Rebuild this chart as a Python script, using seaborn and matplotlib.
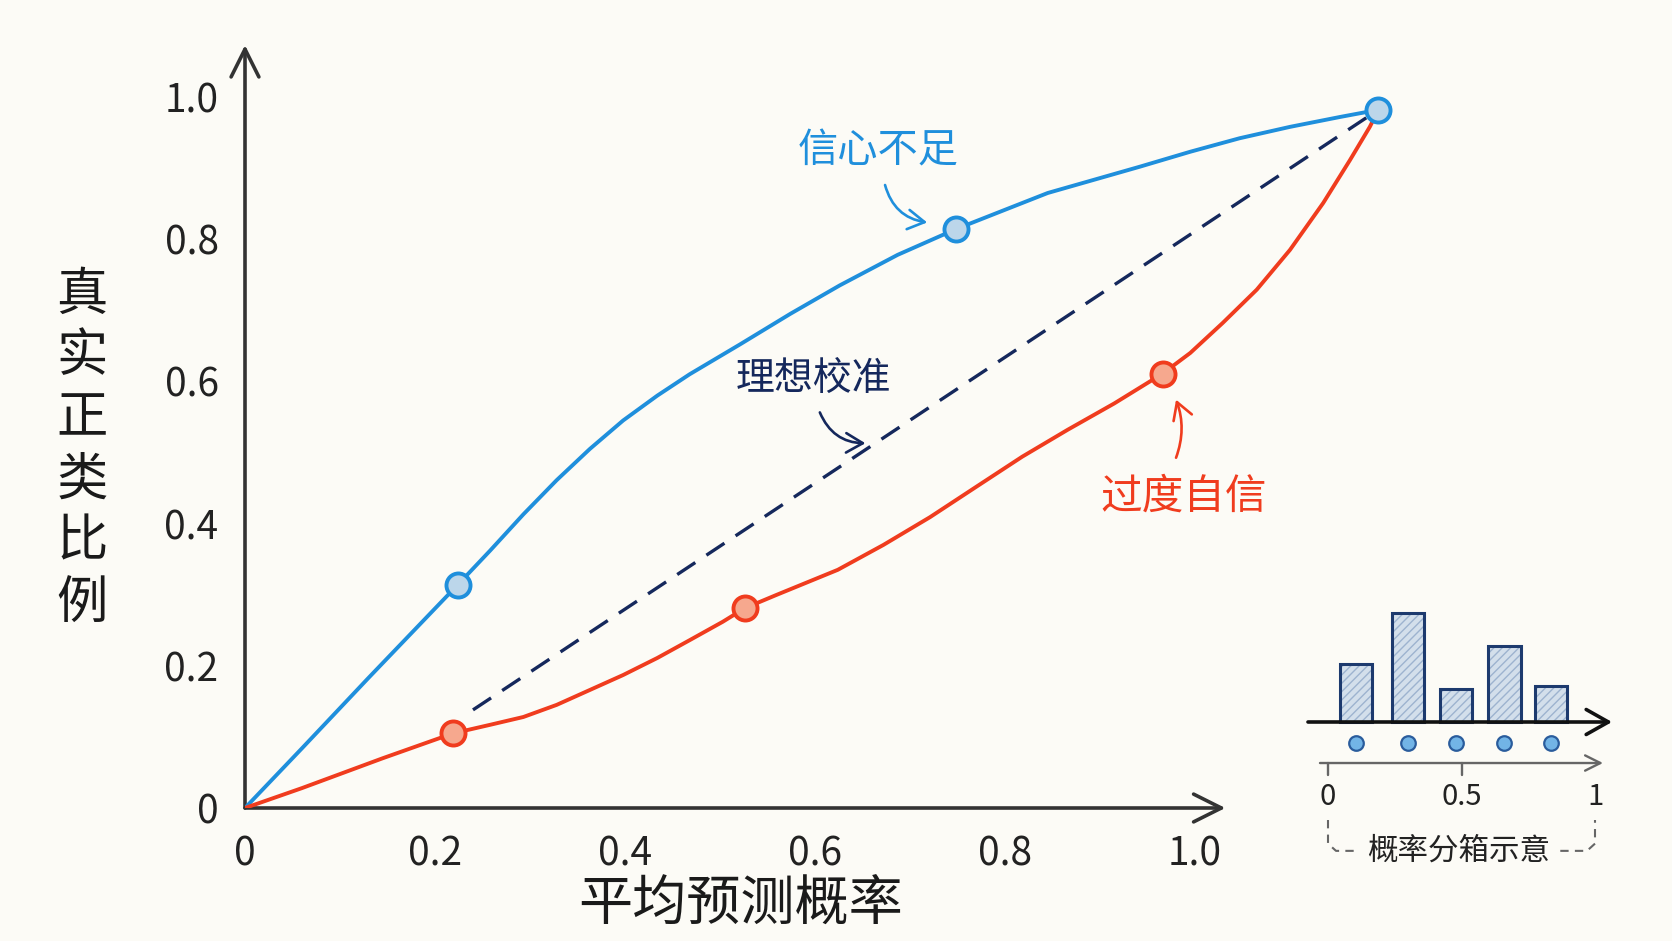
import matplotlib
matplotlib.use('Agg')
import matplotlib.pyplot as plt
import seaborn as sns

# reliability curves
blue_x = [0, 0.06, 0.13, 0.224, 0.258, 0.293, 0.328, 0.363, 0.398, 0.434, 0.468,
          0.521, 0.574, 0.626, 0.687, 0.748, 0.805, 0.845, 0.942, 0.995, 1.047,
          1.100, 1.153, 1.193]
blue_y = [0, 0.084, 0.183, 0.314, 0.362, 0.413, 0.461, 0.505, 0.545, 0.580, 0.610,
          0.652, 0.695, 0.735, 0.778, 0.814, 0.844, 0.865, 0.902, 0.923, 0.942,
          0.958, 0.972, 0.982]
red_x = [0, 0.06, 0.145, 0.219, 0.258, 0.293, 0.328, 0.363, 0.398, 0.434, 0.468,
         0.503, 0.526, 0.560, 0.624, 0.672, 0.721, 0.770, 0.818, 0.866, 0.915,
         0.966, 0.995, 1.029, 1.065, 1.100, 1.135, 1.163, 1.184, 1.193]
red_y = [0, 0.028, 0.070, 0.105, 0.117, 0.128, 0.145, 0.166, 0.187, 0.211, 0.236,
         0.262, 0.281, 0.300, 0.335, 0.370, 0.409, 0.452, 0.494, 0.532, 0.569,
         0.611, 0.640, 0.682, 0.729, 0.785, 0.851, 0.911, 0.958, 0.982]
ideal_x = [0.240, 1.193]
ideal_y = [0.138, 0.982]

blue_pts_x = [0.224, 0.748, 1.193]
blue_pts_y = [0.314, 0.814, 0.982]
red_pts_x = [0.219, 0.526, 0.966]
red_pts_y = [0.105, 0.281, 0.611]

ticks = [0, 0.2, 0.4, 0.6, 0.8, 1.0]
tick_labels = ['0', '0.2', '0.4', '0.6', '0.8', '1.0']

# inset: probability bins
bin_centers = [0.105, 0.30, 0.48, 0.66, 0.835]
bin_counts = [16, 30, 9, 21, 10]

BG = '#fcfbf6'
BLUE = '#1f8fdc'
RED = '#f03c1e'
NAVY = '#15285c'
AXC = '#333333'

sns.set_theme(style='white')
plt.rcParams['font.family'] = ['Noto Sans CJK SC', 'DejaVu Sans']
plt.rcParams['hatch.linewidth'] = 1.0

W, H = 1672, 941


def px_rect(l, t, r, b):
    return [l / W, 1 - b / H, (r - l) / W, (b - t) / H]


fig = plt.figure(figsize=(16.72, 9.41), dpi=100, facecolor=BG)
ax = fig.add_axes(px_rect(245, 40, 1410, 808))
ax.set_facecolor(BG)
ax.set_xlim(0, 1165 / 950)
ax.set_ylim(0, 768 / 711)
for s in ax.spines.values():
    s.set_visible(False)

# axes with arrows
arrow_kw = dict(arrowstyle='->,head_length=2.0,head_width=1.0', lw=2.6,
                color=AXC, mutation_scale=10, shrinkA=0, shrinkB=0)
ax.annotate('', xy=(1.032, 0), xytext=(0, 0), arrowprops=arrow_kw)
ax.annotate('', xy=(0, 1.073), xytext=(0, 0), arrowprops=arrow_kw)

ax.set_xticks(ticks, tick_labels)
ax.set_yticks(ticks, tick_labels)
ax.tick_params(axis='both', direction='out', length=11, width=1.8, color='#555555',
               labelsize=28, labelcolor='#222222')
ax.tick_params(axis='x', pad=8)
ax.tick_params(axis='y', pad=8)
ax.xaxis.get_major_ticks()[0].tick1line.set_visible(False)
ax.xaxis.get_major_ticks()[-1].tick1line.set_visible(False)
ax.yaxis.get_major_ticks()[0].tick1line.set_visible(False)

ax.set_xlabel('平均预测概率', fontsize=39, color='#1a1a1a', fontweight='medium',
              va='center')
ax.xaxis.set_label_coords(0.425, -0.125)
ax.set_ylabel('\n'.join('真实正类比例'), fontsize=37, color='#1a1a1a', rotation=0,
              linespacing=1.2, fontweight='medium', va='center', ha='center')
ax.yaxis.set_label_coords(-0.14, 0.467)

# curves
sns.lineplot(x=ideal_x, y=ideal_y, ax=ax, color=NAVY, linewidth=2.4,
             linestyle=(0, (6.5, 4)), sort=False, estimator=None, zorder=3)
sns.lineplot(x=blue_x, y=blue_y, ax=ax, color=BLUE, linewidth=2.8,
             sort=False, estimator=None, zorder=4)
sns.lineplot(x=red_x, y=red_y, ax=ax, color=RED, linewidth=2.8,
             sort=False, estimator=None, zorder=4)
sns.scatterplot(x=blue_pts_x, y=blue_pts_y, ax=ax, s=300, color='#bcd6ea',
                edgecolor=BLUE, linewidth=2.8, zorder=6, clip_on=False)
sns.scatterplot(x=red_pts_x, y=red_pts_y, ax=ax, s=300, color='#f6a88e',
                edgecolor=RED, linewidth=2.8, zorder=6, clip_on=False)

# annotations
note_arrow = '->,head_length=0.6,head_width=0.35'
ax.text(0.666, 0.924, '信心不足', color=BLUE, fontsize=29, ha='center', va='center')
ax.annotate('', xy=(0.721, 0.823), xytext=(0.673, 0.880),
            arrowprops=dict(arrowstyle=note_arrow, lw=1.9, color=BLUE,
                            mutation_scale=20, connectionstyle='arc3,rad=0.35'))
ax.text(0.598, 0.602, '理想校准', color=NAVY, fontsize=28, ha='center', va='center')
ax.annotate('', xy=(0.656, 0.513), xytext=(0.604, 0.560),
            arrowprops=dict(arrowstyle=note_arrow, lw=1.9, color=NAVY,
                            mutation_scale=20, connectionstyle='arc3,rad=0.35'))
ax.text(0.988, 0.437, '过度自信', color=RED, fontsize=30, ha='center', va='center')
ax.annotate('', xy=(0.979, 0.578), xytext=(0.979, 0.489),
            arrowprops=dict(arrowstyle=note_arrow, lw=1.9, color=RED,
                            mutation_scale=20, connectionstyle='arc3,rad=0.2'))

# inset: binning sketch
ax_in = fig.add_axes(px_rect(1290, 590, 1630, 885))
ax_in.set_facecolor('none')
ax_in.axis('off')
ax_in.set_xlim((1290 - 1328) / 267, (1630 - 1328) / 267)
ax_in.set_ylim((722 - 885) / 3.63, (722 - 590) / 3.63)

ax_in.bar(bin_centers, bin_counts, width=0.122, color='#d3dfeb', hatch='////',
          edgecolor='#9db3cf', linewidth=0, zorder=2)
ax_in.bar(bin_centers, bin_counts, width=0.122, color='none',
          edgecolor='#1d3a6e', linewidth=2.2, zorder=3)
ax_in.annotate('', xy=(1.064, 0), xytext=(-0.075, 0),
               arrowprops=dict(arrowstyle='->,head_length=1.6,head_width=0.9', lw=2.6,
                               color='#111111', mutation_scale=10, shrinkA=0, shrinkB=0))
sns.scatterplot(x=bin_centers, y=[-5.8] * len(bin_centers), ax=ax_in, s=110,
                color='#72b4e6', edgecolor='#2a5c9c', linewidth=1.6, zorder=4)

y_scale = -11.3
ax_in.annotate('', xy=(1.03, y_scale), xytext=(-0.03, y_scale),
               arrowprops=dict(arrowstyle='->,head_length=1.1,head_width=0.55', lw=1.7,
                               color='#666666', mutation_scale=10, shrinkA=0, shrinkB=0))
for t in [0, 0.5]:
    ax_in.plot([t, t], [y_scale, y_scale - 3.3], color='#666666', lw=1.7)
for t, lab in zip([0, 0.5, 1.0], ['0', '0.5', '1']):
    ax_in.text(t, -20.7, lab, fontsize=21, ha='center', va='center', color='#222222')

br_y = -35.5
ax_in.plot([0, 0, 0.03, 0.11], [-27, -33.5, br_y, br_y], color='#666666', lw=1.5,
           linestyle=(0, (4, 3)))
ax_in.plot([0.87, 0.97, 1.0, 1.0], [br_y, br_y, -33.5, -27], color='#666666', lw=1.5,
           linestyle=(0, (4, 3)))
ax_in.text(0.49, br_y, '概率分箱示意', fontsize=22, ha='center', va='center',
           color='#222222')

fig.savefig('out.png', dpi=100, facecolor=BG)
